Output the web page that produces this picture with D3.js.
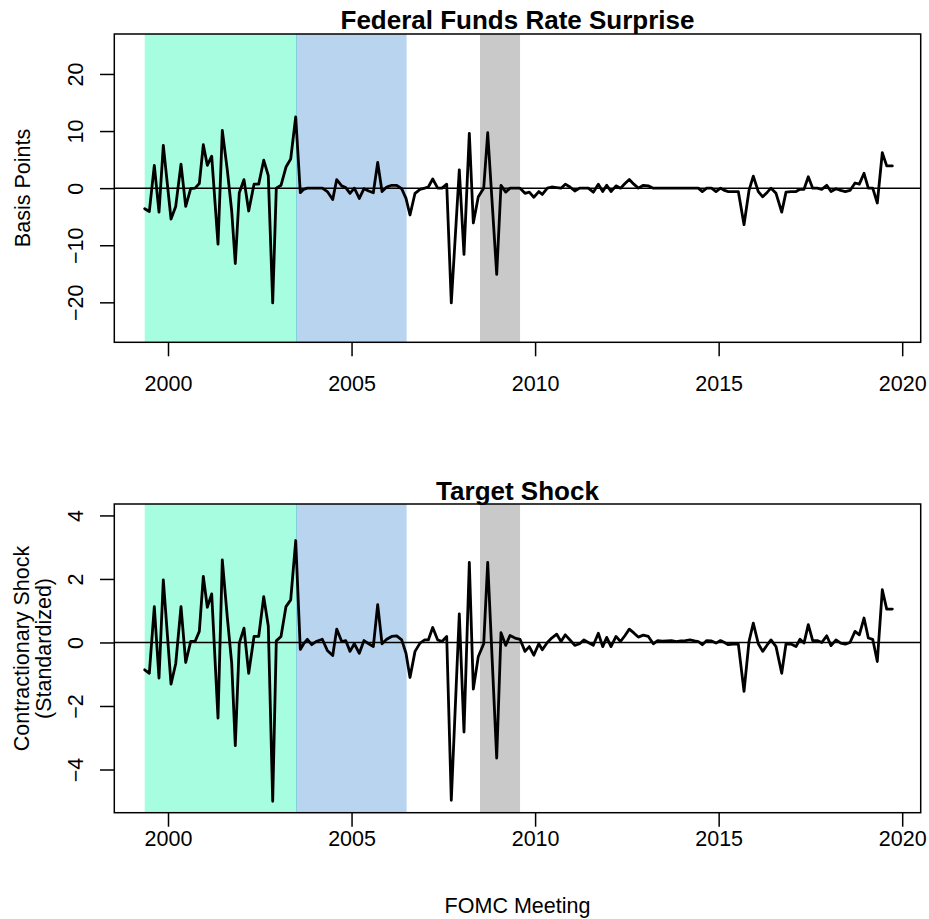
<!DOCTYPE html>
<html><head><meta charset="utf-8">
<script src="https://cdn.jsdelivr.net/npm/d3@7/dist/d3.min.js"></script>
<style>
body{margin:0;background:#fff}
svg{display:block}
text{font-family:"Liberation Sans",Arial,Helvetica,sans-serif;fill:#000}
</style>
</head><body>
<svg id="chart" width="929" height="919"></svg>
<script>
// ---- data ----
const meetingDates = [
1999.365,1999.491,1999.627,1999.755,1999.872,1999.981,2000.082,2000.210,2000.354,2000.482,
2000.618,2000.736,2000.853,2000.962,2001.071,2001.190,2001.362,2001.479,2001.615,2001.735,
2001.833,2001.942,2002.070,2002.198,2002.343,2002.471,2002.607,2002.732,2002.852,2002.950,
2003.078,2003.214,2003.342,2003.479,2003.604,2003.697,2003.795,2003.915,2004.051,2004.203,
2004.340,2004.487,2004.596,2004.732,2004.841,2004.958,2005.075,2005.211,2005.339,2005.467,
2005.593,2005.712,2005.830,2005.958,2006.094,2006.230,2006.366,2006.483,2006.592,2006.729,
2006.865,2006.993,2007.091,2007.211,2007.347,2007.464,2007.592,2007.717,2007.935,2008.063,
2008.208,2008.317,2008.453,2008.600,2008.709,2008.954,2009.071,2009.199,2009.316,2009.453,
2009.589,2009.725,2009.842,2009.965,2010.101,2010.196,2010.333,2010.452,2010.589,2010.706,
2010.823,2010.951,2011.082,2011.212,2011.332,2011.449,2011.586,2011.722,2011.842,2011.951,
2012.068,2012.204,2012.327,2012.449,2012.566,2012.689,2012.811,2012.948,2013.084,2013.220,
2013.340,2013.465,2013.593,2013.716,2013.847,2013.969,2014.095,2014.220,2014.342,2014.446,
2014.555,2014.675,2014.806,2014.928,2015.051,2015.160,2015.263,2015.399,2015.536,2015.691,
2015.827,2015.944,2016.080,2016.200,2016.326,2016.426,2016.563,2016.718,2016.835,2016.971,
2017.107,2017.216,2017.325,2017.442,2017.562,2017.688,2017.808,2017.944,2018.061,2018.197,
2018.325,2018.450,2018.578,2018.715,2018.832,2018.960,2019.077,2019.197,2019.322,2019.458,
2019.578,2019.731
];
const ffrSurprise = [
-3.6,-4.1,4.0,-4.2,7.5,0.8,-5.4,-3.2,4.2,-3.2,
-0.1,0.0,0.8,7.6,4.0,5.6,-9.8,10.1,3.2,-4.0,
-13.2,-0.8,1.5,-4.0,0.7,0.7,4.9,2.2,-20.1,0.0,
0.5,3.7,5.1,12.5,-0.8,-0.2,0.0,0.0,0.0,0.0,
-0.6,-2.0,1.5,0.4,0.1,-0.9,0.0,-1.8,-0.1,-0.5,
-0.8,4.5,-0.6,0.2,0.5,0.5,-0.1,-1.8,-4.7,-0.9,
-0.2,0.0,0.2,1.6,0.0,0.0,0.7,-20.1,3.2,-11.6,
9.6,-6.1,-1.5,0.0,9.7,-15.1,0.5,-0.7,0.0,0.0,
0.0,-0.9,-0.7,-1.6,-0.6,-1.1,0.0,0.2,0.1,0.0,
0.7,0.2,-0.5,0.0,0.0,0.0,-0.7,0.7,-0.6,0.5,
-0.6,0.4,0.0,0.8,1.5,0.7,0.0,0.5,0.4,0.0,
0.0,0.0,0.0,0.0,0.0,0.0,0.0,0.0,0.0,0.0,
-0.6,0.0,0.0,-0.6,0.0,-0.4,-0.6,-0.6,-0.6,-6.4,
-0.4,2.1,-0.6,-1.5,-0.7,0.0,-0.9,-4.2,-0.7,-0.6,
-0.6,-0.2,-0.2,2.0,0.0,0.0,-0.2,0.5,-0.6,-0.1,
-0.4,-0.6,-0.4,0.9,0.7,2.6,0.0,0.0,-2.6,6.2,
3.9,3.9
];
const targetShock = [
-0.86,-0.97,1.13,-1.12,1.97,0.27,-1.31,-0.67,1.13,-0.63,
0.03,0.03,0.35,2.08,1.11,1.53,-2.38,2.60,0.80,-0.65,
-3.25,-0.02,0.45,-0.97,0.19,0.19,1.44,0.52,-5.00,0.05,
0.19,1.13,1.34,3.21,-0.22,-0.04,0.10,-0.07,0.04,0.10,
-0.25,-0.41,0.42,0.03,0.06,-0.28,-0.04,-0.34,0.06,-0.04,
-0.13,1.19,-0.04,0.10,0.19,0.21,0.08,-0.34,-1.10,-0.28,
-0.02,0.08,0.08,0.47,0.08,0.03,0.19,-4.97,0.90,-2.82,
2.52,-1.47,-0.44,-0.04,2.52,-3.64,0.31,-0.09,0.22,0.14,
0.10,-0.28,-0.13,-0.40,-0.04,-0.23,0.00,0.14,0.26,0.03,
0.24,0.08,-0.09,-0.04,0.08,0.00,-0.09,0.29,-0.13,0.16,
-0.13,0.19,0.03,0.22,0.42,0.30,0.17,0.23,0.19,-0.04,
0.06,0.04,0.05,0.06,0.03,0.05,0.06,0.08,0.05,0.03,
-0.07,0.06,0.05,-0.02,0.06,0.00,-0.07,-0.05,-0.05,-1.54,
0.03,0.61,-0.04,-0.28,-0.07,0.08,-0.13,-0.97,-0.04,-0.05,
-0.13,0.10,-0.02,0.56,0.06,0.06,0.00,0.21,-0.10,0.08,
-0.02,-0.05,0.00,0.35,0.24,0.77,0.14,0.10,-0.60,1.66,
1.05,1.05
];
const xTickYears = [2000, 2005, 2010, 2015, 2020];
const topYTicks = [-20, -10, 0, 10, 20];
const bottomYTicks = [-4, -2, 0, 2, 4];
const shadeStarts = [1999.365, 2003.5, 2008.5];
const shadeEnds   = [2003.5, 2006.5, 2009.59];

// ---- styling / layout ----
const shadeColors = ["#a6fde0", "#b9d4ee", "#c9c9c9"];
const svg = d3.select("#chart");
const W = 929, H = 919;
svg.append("rect").attr("width", W).attr("height", H).attr("fill", "#fff");

const boxX0 = 114.3, boxX1 = 920.7;
const x = d3.scaleLinear().domain([1998.537, 2020.504]).range([boxX0, boxX1]);

const fmt = d => d3.format("")(d);

function panel(opts) {
  const y = d3.scaleLinear().domain(opts.ydomain).range([opts.y1, opts.y0]);
  const g = svg.append("g");
  // shaded periods
  g.selectAll("rect.shade").data(shadeStarts.map((s, i) => ({s, e: shadeEnds[i], c: shadeColors[i]})))
    .enter().append("rect")
    .attr("x", d => x(d.s)).attr("width", d => x(d.e) - x(d.s))
    .attr("y", opts.y0).attr("height", opts.y1 - opts.y0)
    .attr("fill", d => d.c);
  // thin boundary between first two periods
  g.append("line").attr("x1", x(shadeEnds[0])).attr("x2", x(shadeEnds[0]))
    .attr("y1", opts.y0).attr("y2", opts.y1)
    .attr("stroke", "#7fd3dc").attr("stroke-width", 1);
  // zero line
  g.append("line").attr("x1", boxX0).attr("x2", boxX1)
    .attr("y1", y(0)).attr("y2", y(0))
    .attr("stroke", "#000").attr("stroke-width", 1.5);
  // series
  const line = d3.line().x((d, i) => x(meetingDates[i])).y(d => y(d));
  g.append("path").datum(opts.values)
    .attr("d", line).attr("fill", "none").attr("stroke", "#000")
    .attr("stroke-width", 2.8).attr("stroke-linejoin", "round").attr("stroke-linecap", "round");
  // box
  g.append("rect").attr("x", boxX0).attr("y", opts.y0)
    .attr("width", boxX1 - boxX0).attr("height", opts.y1 - opts.y0)
    .attr("fill", "none").attr("stroke", "#000").attr("stroke-width", 1.5);

  // x axis
  const xa = g.append("g").attr("transform", `translate(0,${opts.y1})`)
    .call(d3.axisBottom(x).tickValues(xTickYears).tickFormat(fmt).tickSize(14).tickPadding(0));
  xa.select(".domain").remove();
  xa.selectAll(".tick line").attr("stroke", "#000").attr("stroke-width", 1.5);
  xa.selectAll(".tick text").attr("font-size", 21.5).attr("dy", null)
    .attr("y", opts.xLabelBase - opts.y1).style("font-family", '"Liberation Sans",Arial,sans-serif');

  // y axis
  const ya = g.append("g").attr("transform", `translate(${boxX0},0)`)
    .call(d3.axisLeft(y).tickValues(opts.yticks).tickSize(14.3).tickFormat(d3.format("")));
  ya.select(".domain").remove();
  ya.selectAll(".tick line").attr("stroke", "#000").attr("stroke-width", 1.5);
  ya.selectAll(".tick text").remove();
  ya.selectAll(".tick").append("text")
    .attr("transform", `translate(${82.7 - boxX0},0) rotate(-90)`)
    .attr("text-anchor", "middle").attr("font-size", 21.5).attr("fill", "#000")
    .style("font-family", '"Liberation Sans",Arial,sans-serif')
    .text(d => d3.format("")(d));

  // title
  svg.append("text").attr("x", (boxX0 + boxX1) / 2).attr("y", opts.titleBase)
    .attr("text-anchor", "middle").attr("font-size", 26).attr("font-weight", "bold")
    .text(opts.title);
  // y label lines
  opts.ylab.forEach(l => {
    svg.append("text").attr("transform", `translate(${l.x},${opts.ylabCenter}) rotate(-90)`)
      .attr("text-anchor", "middle").attr("font-size", 21.5).text(l.t);
  });
}

panel({
  y0: 34, y1: 342.3, ydomain: [-27, 27], yticks: topYTicks, values: ffrSurprise,
  title: "Federal Funds Rate Surprise", titleBase: 28.6, xLabelBase: 391.5,
  ylab: [{t: "Basis Points", x: 29.5}], ylabCenter: 188
});
panel({
  y0: 504, y1: 812.7, ydomain: [-5.36, 4.36], yticks: bottomYTicks, values: targetShock,
  title: "Target Shock", titleBase: 499.5, xLabelBase: 846,
  ylab: [{t: "Contractionary Shock", x: 29}, {t: "(Standardized)", x: 50.5}], ylabCenter: 648.5
});

svg.append("text").attr("x", (boxX0 + boxX1) / 2).attr("y", 913)
  .attr("text-anchor", "middle").attr("font-size", 21.5).text("FOMC Meeting");
</script>
</body></html>
